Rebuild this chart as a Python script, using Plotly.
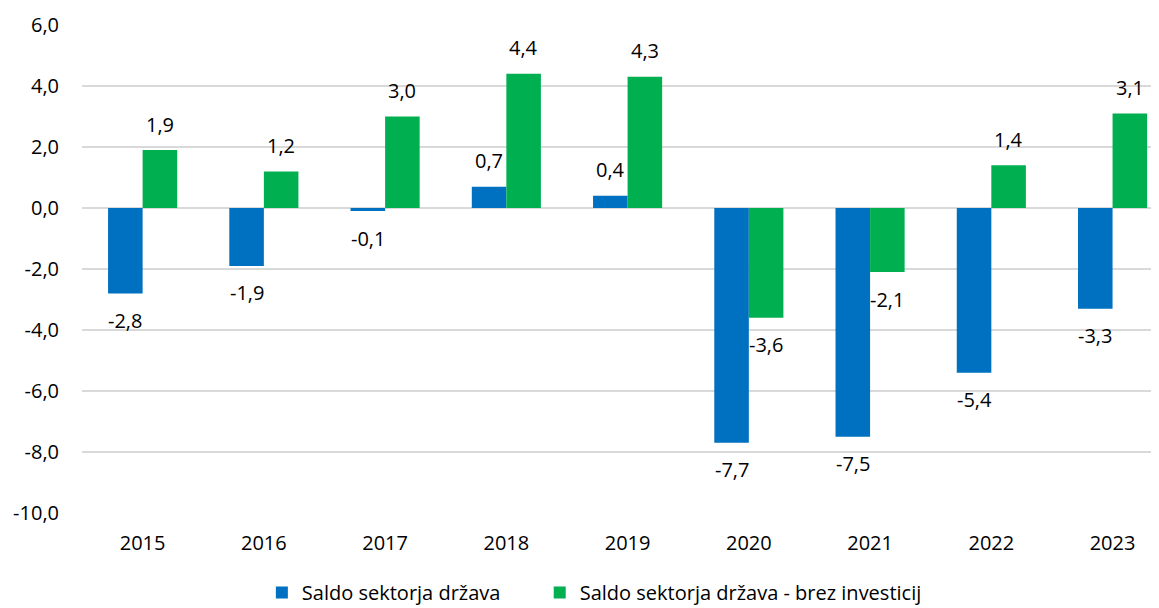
import plotly.graph_objects as go

years = ["2015", "2016", "2017", "2018", "2019", "2020", "2021", "2022", "2023"]
saldo = [-2.8, -1.9, -0.1, 0.7, 0.4, -7.7, -7.5, -5.4, -3.3]
saldo_brez = [1.9, 1.2, 3.0, 4.4, 4.3, -3.6, -2.1, 1.4, 3.1]
name1 = "Saldo sektorja država"
name2 = "Saldo sektorja država - brez investicij"
y_ticks = [6, 4, 2, 0, -2, -4, -6, -8, -10]

BLUE = "#0070C0"
GREEN = "#00B050"
FONT = "Open Sans"
FS = 20
BARGAP = 0.43

def fmt(v):
    return f"{v:.1f}".replace(".", ",")

fig = go.Figure()
fig.add_trace(go.Bar(x=years, y=saldo, name=name1, marker_color=BLUE,
                     marker_line_width=0, legend="legend"))
fig.add_trace(go.Bar(x=years, y=saldo_brez, name=name2, marker_color=GREEN,
                     marker_line_width=0, legend="legend2"))

off = (1 - BARGAP) / 4
annotations = []
for vals, o in ((saldo, -off), (saldo_brez, off)):
    for i, v in enumerate(vals):
        annotations.append(dict(
            x=i + o, y=v, xref="x", yref="y", text=fmt(v), showarrow=False,
            yshift=26 if v >= 0 else -27, yanchor="middle", xanchor="center",
            font=dict(family=FONT, size=FS, color="#000000")))

leg_common = dict(orientation="h", xanchor="left", yref="container", y=0.026,
                  yanchor="middle", font=dict(family=FONT, size=FS), itemwidth=30,
                  bgcolor="rgba(0,0,0,0)")

fig.update_layout(
    width=1151, height=600,
    margin=dict(l=74, r=0, t=17, b=95, autoexpand=False),
    paper_bgcolor="white", plot_bgcolor="white",
    barmode="group", bargap=BARGAP, bargroupgap=0,
    font=dict(family=FONT, size=FS, color="#000000"),
    showlegend=True,
    legend=dict(x=0.167, **leg_common),
    legend2=dict(x=0.425, **leg_common),
    annotations=annotations,
    xaxis=dict(range=[-0.5, 8.383], showgrid=False, showline=False, ticks="",
               tickfont=dict(size=FS), ticklabelstandoff=16, fixedrange=True),
    yaxis=dict(range=[-10, 6], tickvals=y_ticks, ticktext=[fmt(t) for t in y_ticks],
               showgrid=True, gridcolor="#d9d9d9", gridwidth=2, zeroline=True,
               zerolinecolor="#d9d9d9", zerolinewidth=2, showline=False, ticks="",
               tickfont=dict(size=FS), ticklabelstandoff=22),
)

fig.write_html("out.html")
